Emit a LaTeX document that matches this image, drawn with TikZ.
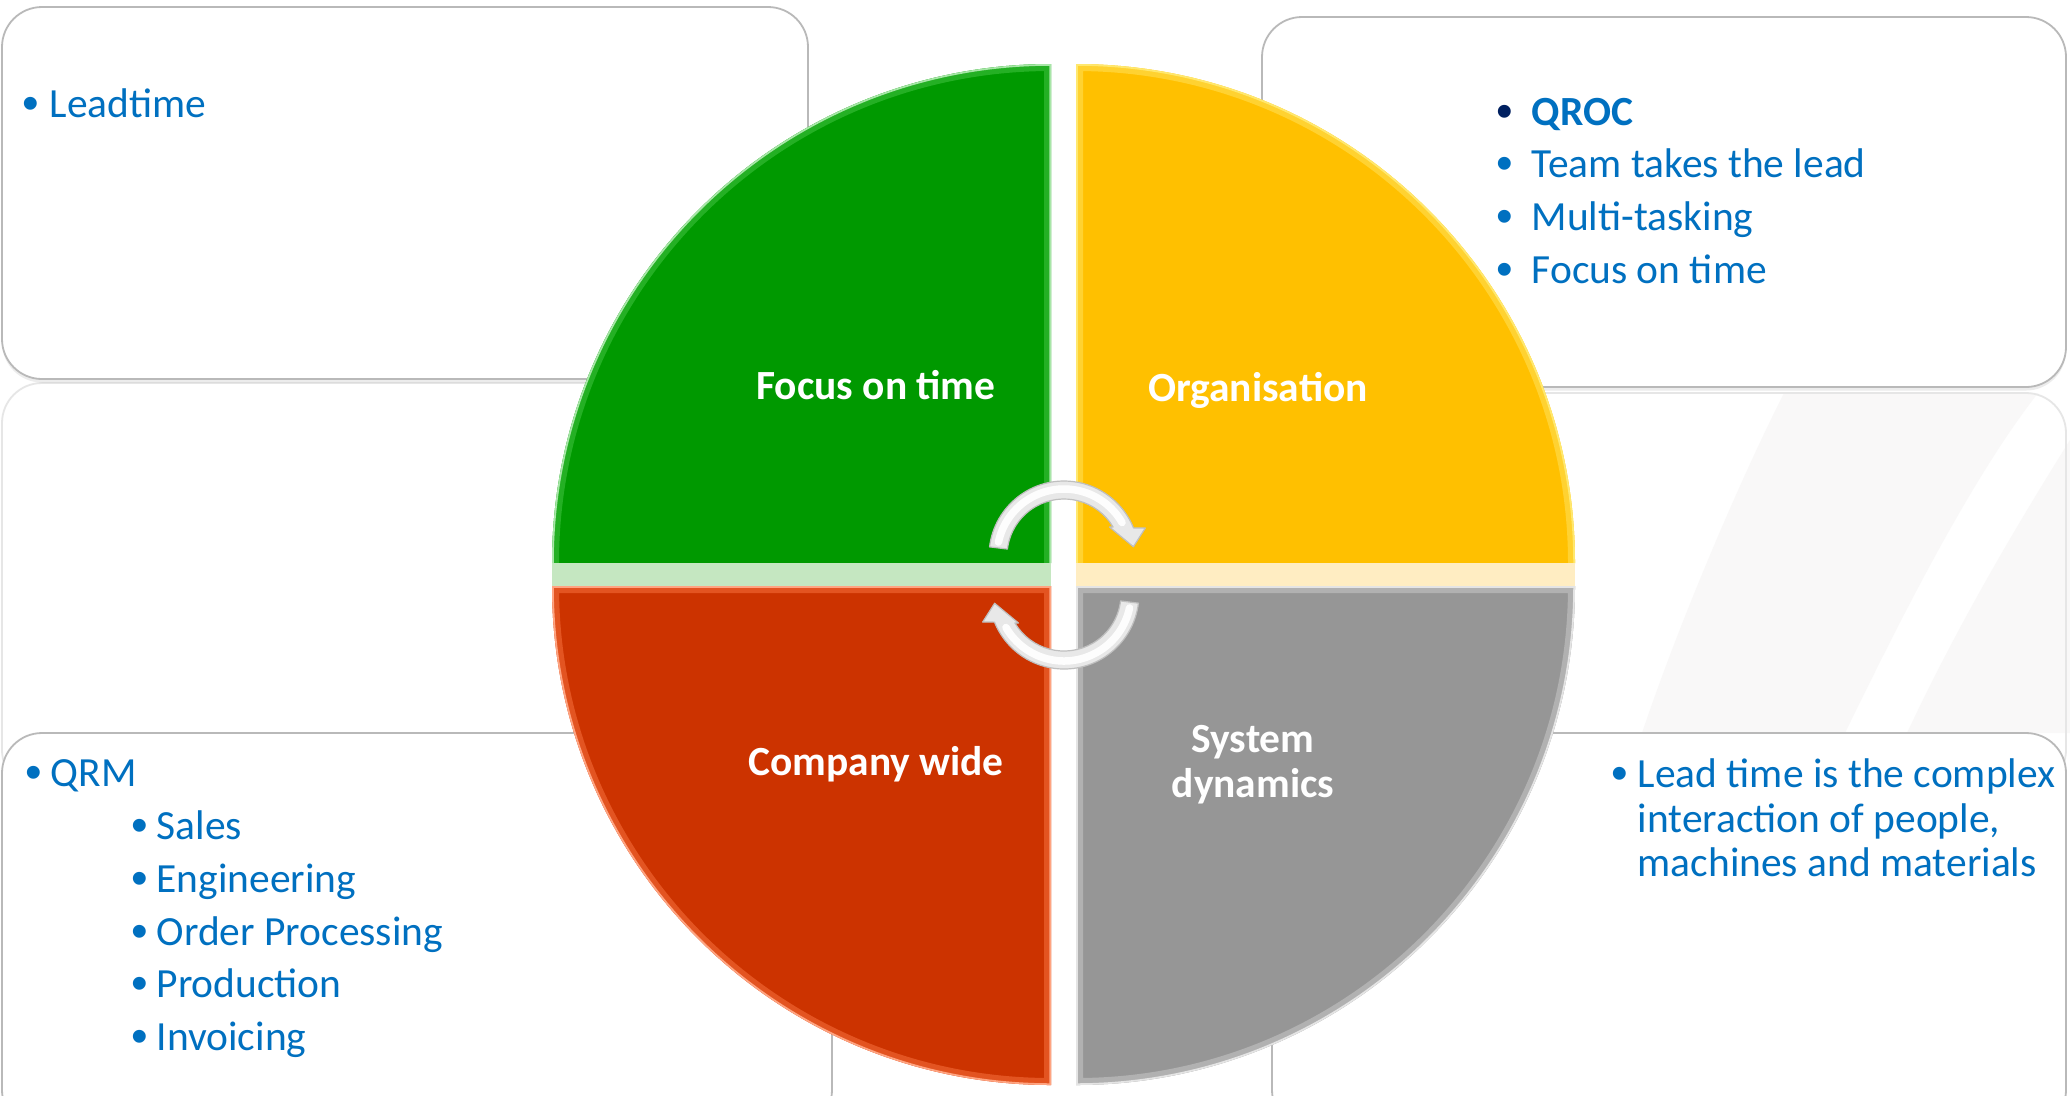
\documentclass[tikz,border=0pt]{standalone}
\usepackage{fontspec}
\setmainfont{Carlito}
\newfontfamily\bulletfont{Liberation Sans}
\usetikzlibrary{shadows}

\definecolor{txtblue}{RGB}{0,112,192}
\definecolor{navy}{RGB}{0,32,96}
\definecolor{qgreen}{RGB}{0,153,0}
\definecolor{qgreenrim}{RGB}{80,205,80}
\definecolor{qorange}{RGB}{255,192,0}
\definecolor{qorangerim}{RGB}{255,232,110}
\definecolor{qred}{RGB}{204,51,0}
\definecolor{qredrim}{RGB}{255,125,75}
\definecolor{qgray}{RGB}{150,150,150}
\definecolor{qgrayrim}{RGB}{210,210,210}
\definecolor{bargreen}{RGB}{197,231,193}
\definecolor{barorange}{RGB}{255,237,194}
\definecolor{boxline}{RGB}{185,185,185}
\definecolor{ghostline}{RGB}{230,230,230}
\definecolor{stripe}{RGB}{249,248,248}

% quarter discs of the matrix (y axis points down, 1 unit = 0.1 mm)
\newcommand\quadTL{(1051,563) -- (552,563) arc[start angle=180, end angle=270, radius=499] -- cycle}
\newcommand\quadTR{(1076,563) -- (1076,64) arc[start angle=270, end angle=360, radius=499] -- cycle}
\newcommand\quadBL{(1051,586) -- (552,586) arc[start angle=180, end angle=90, radius=499] -- cycle}
\newcommand\quadBR{(1076,586) -- (1575,586) arc[start angle=0, end angle=90, radius=499] -- cycle}
% circular arrow body with head, around the origin
\newcommand\cyclearrowpath{(187:75) arc[start angle=187, end angle=338, radius=75] -- (341:86) -- (352.4:70) -- (327.5:54) -- (329.5:57) arc[start angle=329.5, end angle=187, radius=57] -- cycle}

\tikzset{
  panel/.style={draw=boxline, line width=0.18mm, fill=white, rounded corners=4mm,
    drop shadow={shadow xshift=0mm, shadow yshift=-0.35mm, opacity=0.15}},
  ghost/.style={draw=ghostline, line width=0.18mm, rounded corners=4mm},
  item/.style={font=\fontsize{11.8}{12.66}\selectfont, text=txtblue, inner sep=0pt, anchor=base west, align=left},
  bulletmark/.style={font=\bulletfont\fontsize{13.5}{14}\selectfont, text=txtblue, inner sep=0pt, anchor=base, yshift=-0.2mm},
  quadlabel/.style={font=\bfseries\fontsize{11.8}{12.8}\selectfont, text=white, inner sep=0pt, align=center},
  arrowbody/.style={fill=gray!18, draw=gray!50, line width=0.12mm, line join=round},
  arrowshine/.style={draw=white, line width=0.75mm, opacity=0.95, line cap=round},
}

\begin{document}
\begin{tikzpicture}[x=0.1mm, y=-0.1mm]
\useasboundingbox (0,0) rectangle (2070,1095);
\fill[white] (0,0) rectangle (2070,1095);

% faint diagonal bands in the background
\fill[stripe] (1784,393) .. controls (1740,480) and (1680,620) .. (1642,733)
  -- (1845,733) .. controls (1900,620) and (1970,480) .. (2038,393) -- cycle;
\fill[stripe] (2070,440) -- (2070,733) -- (1907,733) .. controls (1960,620) and (2020,520) .. (2070,440) -- cycle;

% mirrored ghosts of the upper panels
\draw[ghost] (2,383) rectangle (808,790);
\draw[ghost] (1262,393) rectangle (2066,790);

% text panels
\path[panel] (2,7) rectangle (808,379);
\path[panel] (1262,17) rectangle (2066,387);
\path[panel] (2,733) rectangle (832,1130);
\path[panel] (1272,733) rectangle (2066,1130);

% quarter discs
\fill[qgreen] \quadTL;
\fill[qorange] \quadTR;
\fill[qred] \quadBL;
\fill[qgray] \quadBR;

% bevel highlights
\begin{scope}
  \clip \quadTL;
  \draw[qgreenrim, line width=1.4mm, opacity=0.45] (552,563) arc[start angle=180, end angle=270, radius=499] -- (1051,563);
  \draw[qgreenrim!50!white, line width=0.35mm] (552,563) arc[start angle=180, end angle=270, radius=499] -- (1051,563);
\end{scope}
\begin{scope}
  \clip \quadTR;
  \draw[qorangerim, line width=1.4mm, opacity=0.45] (1076,563) -- (1076,64) arc[start angle=270, end angle=360, radius=499];
  \draw[qorangerim, line width=0.35mm] (1076,563) -- (1076,64) arc[start angle=270, end angle=360, radius=499];
\end{scope}
\begin{scope}
  \clip \quadBL;
  \draw[qredrim, line width=1.4mm, opacity=0.45] \quadBL;
  \draw[qredrim!70!white, line width=0.35mm] \quadBL;
\end{scope}
\begin{scope}
  \clip \quadBR;
  \draw[qgrayrim, line width=1.4mm, opacity=0.45] \quadBR;
  \draw[qgrayrim!60!white, line width=0.35mm] \quadBR;
\end{scope}

% pale bands under the upper quarters
\fill[bargreen] (552,563) rectangle (1051,586);
\fill[barorange] (1076,563) rectangle (1575,586);

% circular arrows in the centre
\begin{scope}[shift={(1064,556)}]
  \path[arrowbody] \cyclearrowpath;
  \draw[arrowshine] (192:67) arc[start angle=192, end angle=330, radius=67];
\end{scope}
\begin{scope}[rotate around={180:(1064,575)}, shift={(1064,556)}]
  \path[arrowbody] \cyclearrowpath;
  \draw[arrowshine] (192:67) arc[start angle=192, end angle=330, radius=67];
\end{scope}

% quadrant titles
\node[quadlabel, anchor=base] (lblfocus) at (876,399) {Focus on time};
\node[quadlabel, anchor=base] (lblorg) at (1258,401) {Organisation};
\node[quadlabel, anchor=base] (lblcomp) at (876,775) {Company wide};
\node[quadlabel] (lblsys) at (1253,765) {System\\dynamics};

% upper left panel
\node[bulletmark] (bLead) at (31,117) {•};
\node[item] (tLead) at (49,117) {Leadtime};

% upper right panel
\node[bulletmark, text=navy] (bQroc) at (1505,125) {•};
\node[item, font=\bfseries\fontsize{11.8}{14}\selectfont] (tQroc) at (1531,125) {QROC};
\node[bulletmark] (bTeam) at (1505,177.5) {•};
\node[item] (tTeam) at (1531,177.5) {Team takes the lead};
\node[bulletmark] (bMulti) at (1505,230) {•};
\node[item] (tMulti) at (1531,230) {Multi-tasking};
\node[bulletmark] (bFocus) at (1505,283) {•};
\node[item] (tFocus) at (1531,283) {Focus on time};

% lower left panel
\node[bulletmark] (bQrm) at (34,786) {•};
\node[item] (tQrm) at (50,786) {QRM};
\node[bulletmark] (bSales) at (140,839) {•};
\node[item] (tSales) at (156,839) {Sales};
\node[bulletmark] (bEng) at (140,892) {•};
\node[item] (tEng) at (156,892) {Engineering};
\node[bulletmark] (bOrder) at (140,945) {•};
\node[item] (tOrder) at (156,945) {Order Processing};
\node[bulletmark] (bProd) at (140,997) {•};
\node[item] (tProd) at (156,997) {Production};
\node[bulletmark] (bInv) at (140,1050) {•};
\node[item] (tInv) at (156,1050) {Invoicing};

% lower right panel
\node[bulletmark] (bLeadtime) at (1620,787) {•};
\node[item, anchor=north west] (tLeadtime) at (1637,758) {Lead time is the complex\\interaction of people,\\machines and materials};
\end{tikzpicture}
\end{document}
